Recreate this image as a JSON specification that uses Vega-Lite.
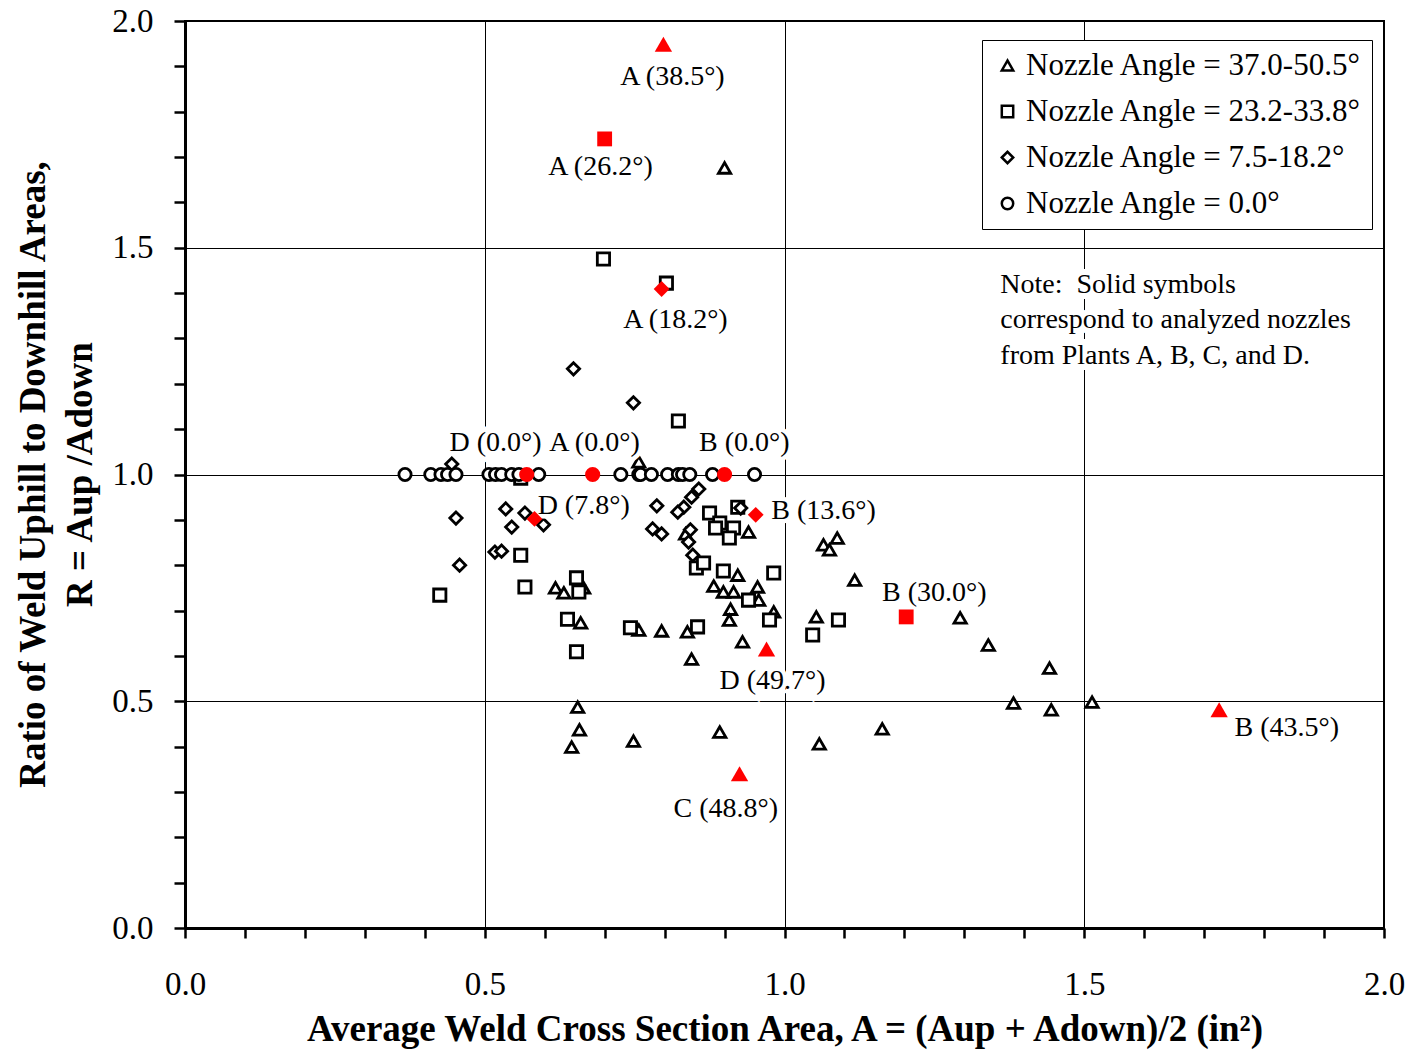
{
  "$schema": "https://vega.github.io/schema/vega-lite/v6.json",
  "width": 1199,
  "height": 907,
  "autosize": {"type": "none"},
  "padding": {"left": 185, "top": 21, "right": 29, "bottom": 126},
  "background": "white",
  "config": {
    "font": "Liberation Serif",
    "view": {"stroke": "black", "strokeWidth": 2},
    "legend": {
      "orient": "none",
      "legendX": 797,
      "legendY": 19,
      "fillColor": "white",
      "strokeColor": "black",
      "padding": 10,
      "labelFont": "Liberation Serif",
      "labelFontSize": 31,
      "labelColor": "black",
      "labelLimit": 500,
      "symbolSize": 130,
      "symbolStrokeWidth": 2.5,
      "rowPadding": 14,
      "labelOffset": 3
    }
  },
  "datasets": {
    "black": [
      {"g": "Nozzle Angle = 37.0-50.5°", "a": 0.900, "r": 1.676},
      {"g": "Nozzle Angle = 37.0-50.5°", "a": 0.757, "r": 1.028},
      {"g": "Nozzle Angle = 37.0-50.5°", "a": 0.618, "r": 0.750},
      {"g": "Nozzle Angle = 37.0-50.5°", "a": 0.632, "r": 0.739},
      {"g": "Nozzle Angle = 37.0-50.5°", "a": 0.665, "r": 0.750},
      {"g": "Nozzle Angle = 37.0-50.5°", "a": 0.660, "r": 0.673},
      {"g": "Nozzle Angle = 37.0-50.5°", "a": 0.757, "r": 0.657},
      {"g": "Nozzle Angle = 37.0-50.5°", "a": 0.795, "r": 0.655},
      {"g": "Nozzle Angle = 37.0-50.5°", "a": 0.838, "r": 0.653},
      {"g": "Nozzle Angle = 37.0-50.5°", "a": 0.845, "r": 0.593},
      {"g": "Nozzle Angle = 37.0-50.5°", "a": 0.655, "r": 0.487},
      {"g": "Nozzle Angle = 37.0-50.5°", "a": 0.658, "r": 0.437},
      {"g": "Nozzle Angle = 37.0-50.5°", "a": 0.645, "r": 0.399},
      {"g": "Nozzle Angle = 37.0-50.5°", "a": 0.748, "r": 0.412},
      {"g": "Nozzle Angle = 37.0-50.5°", "a": 0.892, "r": 0.432},
      {"g": "Nozzle Angle = 37.0-50.5°", "a": 0.835, "r": 0.869},
      {"g": "Nozzle Angle = 37.0-50.5°", "a": 0.940, "r": 0.873},
      {"g": "Nozzle Angle = 37.0-50.5°", "a": 0.882, "r": 0.754},
      {"g": "Nozzle Angle = 37.0-50.5°", "a": 0.898, "r": 0.741},
      {"g": "Nozzle Angle = 37.0-50.5°", "a": 0.915, "r": 0.741},
      {"g": "Nozzle Angle = 37.0-50.5°", "a": 0.922, "r": 0.778},
      {"g": "Nozzle Angle = 37.0-50.5°", "a": 0.955, "r": 0.752},
      {"g": "Nozzle Angle = 37.0-50.5°", "a": 0.957, "r": 0.723},
      {"g": "Nozzle Angle = 37.0-50.5°", "a": 0.910, "r": 0.703},
      {"g": "Nozzle Angle = 37.0-50.5°", "a": 0.908, "r": 0.679},
      {"g": "Nozzle Angle = 37.0-50.5°", "a": 0.982, "r": 0.697},
      {"g": "Nozzle Angle = 37.0-50.5°", "a": 0.930, "r": 0.631},
      {"g": "Nozzle Angle = 37.0-50.5°", "a": 1.065, "r": 0.845},
      {"g": "Nozzle Angle = 37.0-50.5°", "a": 1.088, "r": 0.860},
      {"g": "Nozzle Angle = 37.0-50.5°", "a": 1.075, "r": 0.834},
      {"g": "Nozzle Angle = 37.0-50.5°", "a": 1.117, "r": 0.767},
      {"g": "Nozzle Angle = 37.0-50.5°", "a": 1.053, "r": 0.686},
      {"g": "Nozzle Angle = 37.0-50.5°", "a": 1.293, "r": 0.684},
      {"g": "Nozzle Angle = 37.0-50.5°", "a": 1.340, "r": 0.624},
      {"g": "Nozzle Angle = 37.0-50.5°", "a": 1.442, "r": 0.573},
      {"g": "Nozzle Angle = 37.0-50.5°", "a": 1.382, "r": 0.496},
      {"g": "Nozzle Angle = 37.0-50.5°", "a": 1.445, "r": 0.481},
      {"g": "Nozzle Angle = 37.0-50.5°", "a": 1.513, "r": 0.498},
      {"g": "Nozzle Angle = 37.0-50.5°", "a": 1.058, "r": 0.406},
      {"g": "Nozzle Angle = 37.0-50.5°", "a": 1.163, "r": 0.439},
      {"g": "Nozzle Angle = 23.2-33.8°", "a": 0.698, "r": 1.475},
      {"g": "Nozzle Angle = 23.2-33.8°", "a": 0.803, "r": 1.422},
      {"g": "Nozzle Angle = 23.2-33.8°", "a": 0.823, "r": 1.118},
      {"g": "Nozzle Angle = 23.2-33.8°", "a": 0.560, "r": 0.992},
      {"g": "Nozzle Angle = 23.2-33.8°", "a": 0.560, "r": 0.822},
      {"g": "Nozzle Angle = 23.2-33.8°", "a": 0.567, "r": 0.752},
      {"g": "Nozzle Angle = 23.2-33.8°", "a": 0.425, "r": 0.734},
      {"g": "Nozzle Angle = 23.2-33.8°", "a": 0.653, "r": 0.772},
      {"g": "Nozzle Angle = 23.2-33.8°", "a": 0.657, "r": 0.741},
      {"g": "Nozzle Angle = 23.2-33.8°", "a": 0.638, "r": 0.681},
      {"g": "Nozzle Angle = 23.2-33.8°", "a": 0.653, "r": 0.609},
      {"g": "Nozzle Angle = 23.2-33.8°", "a": 0.743, "r": 0.662},
      {"g": "Nozzle Angle = 23.2-33.8°", "a": 0.855, "r": 0.664},
      {"g": "Nozzle Angle = 23.2-33.8°", "a": 0.875, "r": 0.915},
      {"g": "Nozzle Angle = 23.2-33.8°", "a": 0.922, "r": 0.928},
      {"g": "Nozzle Angle = 23.2-33.8°", "a": 0.892, "r": 0.893},
      {"g": "Nozzle Angle = 23.2-33.8°", "a": 0.885, "r": 0.882},
      {"g": "Nozzle Angle = 23.2-33.8°", "a": 0.915, "r": 0.882},
      {"g": "Nozzle Angle = 23.2-33.8°", "a": 0.908, "r": 0.860},
      {"g": "Nozzle Angle = 23.2-33.8°", "a": 0.853, "r": 0.794},
      {"g": "Nozzle Angle = 23.2-33.8°", "a": 0.865, "r": 0.805},
      {"g": "Nozzle Angle = 23.2-33.8°", "a": 0.898, "r": 0.787},
      {"g": "Nozzle Angle = 23.2-33.8°", "a": 0.982, "r": 0.783},
      {"g": "Nozzle Angle = 23.2-33.8°", "a": 0.940, "r": 0.723},
      {"g": "Nozzle Angle = 23.2-33.8°", "a": 0.975, "r": 0.679},
      {"g": "Nozzle Angle = 23.2-33.8°", "a": 1.090, "r": 0.679},
      {"g": "Nozzle Angle = 23.2-33.8°", "a": 1.047, "r": 0.646},
      {"g": "Nozzle Angle = 7.5-18.2°", "a": 0.648, "r": 1.233},
      {"g": "Nozzle Angle = 7.5-18.2°", "a": 0.748, "r": 1.158},
      {"g": "Nozzle Angle = 7.5-18.2°", "a": 0.445, "r": 1.023},
      {"g": "Nozzle Angle = 7.5-18.2°", "a": 0.452, "r": 0.904},
      {"g": "Nozzle Angle = 7.5-18.2°", "a": 0.458, "r": 0.800},
      {"g": "Nozzle Angle = 7.5-18.2°", "a": 0.535, "r": 0.924},
      {"g": "Nozzle Angle = 7.5-18.2°", "a": 0.567, "r": 0.915},
      {"g": "Nozzle Angle = 7.5-18.2°", "a": 0.545, "r": 0.884},
      {"g": "Nozzle Angle = 7.5-18.2°", "a": 0.598, "r": 0.889},
      {"g": "Nozzle Angle = 7.5-18.2°", "a": 0.517, "r": 0.829},
      {"g": "Nozzle Angle = 7.5-18.2°", "a": 0.528, "r": 0.831},
      {"g": "Nozzle Angle = 7.5-18.2°", "a": 0.857, "r": 0.968},
      {"g": "Nozzle Angle = 7.5-18.2°", "a": 0.845, "r": 0.950},
      {"g": "Nozzle Angle = 7.5-18.2°", "a": 0.787, "r": 0.931},
      {"g": "Nozzle Angle = 7.5-18.2°", "a": 0.832, "r": 0.928},
      {"g": "Nozzle Angle = 7.5-18.2°", "a": 0.822, "r": 0.917},
      {"g": "Nozzle Angle = 7.5-18.2°", "a": 0.780, "r": 0.880},
      {"g": "Nozzle Angle = 7.5-18.2°", "a": 0.795, "r": 0.869},
      {"g": "Nozzle Angle = 7.5-18.2°", "a": 0.843, "r": 0.878},
      {"g": "Nozzle Angle = 7.5-18.2°", "a": 0.840, "r": 0.851},
      {"g": "Nozzle Angle = 7.5-18.2°", "a": 0.847, "r": 0.822},
      {"g": "Nozzle Angle = 7.5-18.2°", "a": 0.927, "r": 0.926},
      {"g": "Nozzle Angle = 0.0°", "a": 0.367, "r": 1.0},
      {"g": "Nozzle Angle = 0.0°", "a": 0.410, "r": 1.0},
      {"g": "Nozzle Angle = 0.0°", "a": 0.427, "r": 1.0},
      {"g": "Nozzle Angle = 0.0°", "a": 0.438, "r": 1.0},
      {"g": "Nozzle Angle = 0.0°", "a": 0.452, "r": 1.0},
      {"g": "Nozzle Angle = 0.0°", "a": 0.507, "r": 1.0},
      {"g": "Nozzle Angle = 0.0°", "a": 0.518, "r": 1.0},
      {"g": "Nozzle Angle = 0.0°", "a": 0.528, "r": 1.0},
      {"g": "Nozzle Angle = 0.0°", "a": 0.545, "r": 1.0},
      {"g": "Nozzle Angle = 0.0°", "a": 0.557, "r": 1.0},
      {"g": "Nozzle Angle = 0.0°", "a": 0.590, "r": 1.0},
      {"g": "Nozzle Angle = 0.0°", "a": 0.727, "r": 1.0},
      {"g": "Nozzle Angle = 0.0°", "a": 0.757, "r": 1.0},
      {"g": "Nozzle Angle = 0.0°", "a": 0.760, "r": 1.0},
      {"g": "Nozzle Angle = 0.0°", "a": 0.778, "r": 1.0},
      {"g": "Nozzle Angle = 0.0°", "a": 0.805, "r": 1.0},
      {"g": "Nozzle Angle = 0.0°", "a": 0.823, "r": 1.0},
      {"g": "Nozzle Angle = 0.0°", "a": 0.830, "r": 1.0},
      {"g": "Nozzle Angle = 0.0°", "a": 0.842, "r": 1.0},
      {"g": "Nozzle Angle = 0.0°", "a": 0.880, "r": 1.0},
      {"g": "Nozzle Angle = 0.0°", "a": 0.950, "r": 1.0}
    ],
    "redTri": [
      {"a": 0.798, "r": 1.949},
      {"a": 0.970, "r": 0.615},
      {"a": 0.925, "r": 0.340},
      {"a": 1.725, "r": 0.481}
    ],
    "redSq": [
      {"a": 0.700, "r": 1.740},
      {"a": 1.203, "r": 0.686}
    ],
    "redDia": [
      {"a": 0.795, "r": 1.409},
      {"a": 0.583, "r": 0.902},
      {"a": 0.952, "r": 0.911}
    ],
    "redCirc": [
      {"a": 0.570, "r": 1.0},
      {"a": 0.680, "r": 1.0},
      {"a": 0.900, "r": 1.0}
    ],
    "labels": [
      {"t": "A (38.5°)", "a": 0.813, "r": 1.876},
      {"t": "A (26.2°)", "a": 0.693, "r": 1.678},
      {"t": "A (18.2°)", "a": 0.818, "r": 1.341},
      {"t": "D (0.0°)", "a": 0.518, "r": 1.069},
      {"t": "A (0.0°)", "a": 0.683, "r": 1.069},
      {"t": "B (0.0°)", "a": 0.933, "r": 1.069},
      {"t": "D (7.8°)", "a": 0.665, "r": 0.931},
      {"t": "B (13.6°)", "a": 1.065, "r": 0.920},
      {"t": "B (30.0°)", "a": 1.250, "r": 0.739},
      {"t": "D (49.7°)", "a": 0.980, "r": 0.545},
      {"t": "C (48.8°)", "a": 0.902, "r": 0.262},
      {"t": "B (43.5°)", "a": 1.838, "r": 0.441}
    ],
    "note": [
      {"t": "Note:\u00a0 Solid symbols\ncorrespond to analyzed nozzles\nfrom Plants A, B, C, and D.", "a": 1.36, "r": 1.418}
    ]
  },
  "layer": [
    {
      "data": {"name": "black"},
      "mark": {"type": "point", "filled": false, "color": "black", "fill": "white", "fillOpacity": 1, "strokeWidth": 2.8, "size": 150, "opacity": 1},
      "encoding": {
        "x": {
          "field": "a", "type": "quantitative",
          "scale": {"domain": [0, 2], "nice": false},
          "axis": {
            "values": [0, 0.1, 0.2, 0.3, 0.4, 0.5, 0.6, 0.7, 0.8, 0.9, 1.0, 1.1, 1.2, 1.3, 1.4, 1.5, 1.6, 1.7, 1.8, 1.9, 2.0],
            "labelExpr": "abs(datum.value*2 - round(datum.value*2)) < 0.001 ? format(datum.value, '.1f') : ''",
            "labelOverlap": false,
            "labelFlush": false,
            "labelBound": false,
            "labelFontSize": 33,
            "labelColor": "black",
            "labelPadding": 30,
            "tickSize": 10,
            "tickWidth": 2.5,
            "tickColor": "black",
            "domainColor": "black",
            "domainWidth": 3,
            "grid": true,
            "gridColor": "black",
            "gridWidth": 1,
            "gridOpacity": {"condition": {"test": "abs(datum.value*2 - round(datum.value*2)) < 0.001 && datum.value > 0.01 && datum.value < 1.99", "value": 1}, "value": 0},
            "title": "Average Weld Cross Section Area, A = (Aup + Adown)/2 (in²)",
            "titleFontSize": 37,
            "titleFontWeight": "bold",
            "titleColor": "black",
            "titleBaseline": "alphabetic",
            "titleY": 112
          }
        },
        "y": {
          "field": "r", "type": "quantitative",
          "scale": {"domain": [0, 2], "nice": false},
          "axis": {
            "values": [0, 0.1, 0.2, 0.3, 0.4, 0.5, 0.6, 0.7, 0.8, 0.9, 1.0, 1.1, 1.2, 1.3, 1.4, 1.5, 1.6, 1.7, 1.8, 1.9, 2.0],
            "labelExpr": "abs(datum.value*2 - round(datum.value*2)) < 0.001 ? format(datum.value, '.1f') : ''",
            "labelOverlap": false,
            "labelFlush": false,
            "labelBound": false,
            "labelFontSize": 33,
            "labelColor": "black",
            "labelPadding": 21,
            "tickSize": 11,
            "tickWidth": 2.5,
            "tickColor": "black",
            "domainColor": "black",
            "domainWidth": 3,
            "grid": true,
            "gridColor": "black",
            "gridWidth": 1,
            "gridOpacity": {"condition": {"test": "abs(datum.value*2 - round(datum.value*2)) < 0.001 && datum.value > 0.01 && datum.value < 1.99", "value": 1}, "value": 0},
            "title": ["Ratio of Weld Uphill to Downhill Areas,", "R = Aup /Adown"],
            "titleFontSize": 37,
            "titleFontWeight": "bold",
            "titleColor": "black",
            "titleLineHeight": 47,
            "titleAngle": -90,
            "titleAlign": "center",
            "titleBaseline": "middle",
            "titleX": -152,
            "titleY": 453
          }
        },
        "shape": {
          "field": "g", "type": "nominal",
          "scale": {
            "domain": ["Nozzle Angle = 37.0-50.5°", "Nozzle Angle = 23.2-33.8°", "Nozzle Angle = 7.5-18.2°", "Nozzle Angle = 0.0°"],
            "range": ["triangle-up", "square", "diamond", "circle"]
          },
          "legend": {
            "title": null,
            "encode": {"symbols": {"stroke": {"value": "black"}, "fill": {"value": "white"}, "strokeWidth": {"value": 2.6}, "size": {"value": 130}, "opacity": {"value": 1}}}
          }
        }
      }
    },
    {
      "data": {"name": "labels"},
      "mark": {"type": "text", "fontSize": 28, "align": "center", "baseline": "middle", "fill": "white", "stroke": "white", "strokeWidth": 9},
      "encoding": {
        "x": {"field": "a", "type": "quantitative"},
        "y": {"field": "r", "type": "quantitative"},
        "text": {"field": "t"}
      }
    },
    {
      "data": {"name": "note"},
      "mark": {"type": "text", "fontSize": 28, "align": "left", "baseline": "middle", "lineBreak": "\n", "lineHeight": 35.5, "fill": "white", "stroke": "white", "strokeWidth": 12},
      "encoding": {
        "x": {"field": "a", "type": "quantitative"},
        "y": {"field": "r", "type": "quantitative"},
        "text": {"field": "t"}
      }
    },
    {
      "data": {"name": "redTri"},
      "mark": {"type": "point", "shape": "triangle-up", "filled": true, "fill": "#ff0000", "strokeWidth": 0, "size": 300, "opacity": 1},
      "encoding": {
        "x": {"field": "a", "type": "quantitative"},
        "y": {"field": "r", "type": "quantitative"}
      }
    },
    {
      "data": {"name": "redSq"},
      "mark": {"type": "point", "shape": "square", "filled": true, "fill": "#ff0000", "strokeWidth": 0, "size": 220, "opacity": 1},
      "encoding": {
        "x": {"field": "a", "type": "quantitative"},
        "y": {"field": "r", "type": "quantitative"}
      }
    },
    {
      "data": {"name": "redDia"},
      "mark": {"type": "point", "shape": "diamond", "filled": true, "fill": "#ff0000", "strokeWidth": 0, "size": 250, "opacity": 1},
      "encoding": {
        "x": {"field": "a", "type": "quantitative"},
        "y": {"field": "r", "type": "quantitative"}
      }
    },
    {
      "data": {"name": "redCirc"},
      "mark": {"type": "point", "shape": "circle", "filled": true, "fill": "#ff0000", "strokeWidth": 0, "size": 230, "opacity": 1},
      "encoding": {
        "x": {"field": "a", "type": "quantitative"},
        "y": {"field": "r", "type": "quantitative"}
      }
    },
    {
      "data": {"name": "labels"},
      "mark": {"type": "text", "fontSize": 28, "align": "center", "baseline": "middle", "fill": "black"},
      "encoding": {
        "x": {"field": "a", "type": "quantitative"},
        "y": {"field": "r", "type": "quantitative"},
        "text": {"field": "t"}
      }
    },
    {
      "data": {"name": "note"},
      "mark": {"type": "text", "fontSize": 28, "align": "left", "baseline": "middle", "lineBreak": "\n", "lineHeight": 35.5, "fill": "black"},
      "encoding": {
        "x": {"field": "a", "type": "quantitative"},
        "y": {"field": "r", "type": "quantitative"},
        "text": {"field": "t"}
      }
    }
  ]
}
